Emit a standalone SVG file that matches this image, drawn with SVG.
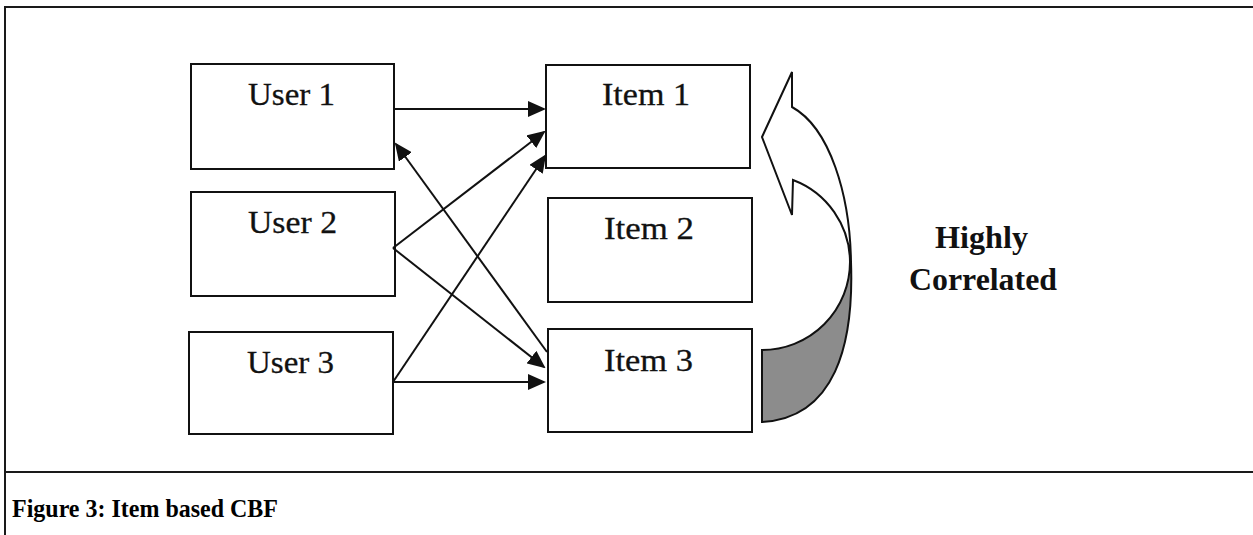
<svg xmlns="http://www.w3.org/2000/svg" width="1253" height="535" viewBox="0 0 1253 535">
  <style>
    .frame { stroke: #1a1a1a; stroke-width: 2; fill: none; }
    .box rect { fill: #ffffff; stroke: #111111; stroke-width: 2; }
    .box text { font-family: "Liberation Serif", "Times New Roman", serif; font-size: 32px; fill: #111111; stroke: #111111; stroke-width: 0.3; }
    .link { stroke: #111111; stroke-width: 2; fill: none; marker-end: url(#ah); }
    .label { font-family: "Liberation Serif", "Times New Roman", serif; font-size: 31px; font-weight: bold; fill: #111111; }
    .caption { font-family: "Liberation Serif", "Times New Roman", serif; font-size: 26px; font-weight: bold; fill: #000000; }
    .bend { stroke: #111111; stroke-width: 2; stroke-linejoin: miter; }
  </style>
  <defs>
    <marker id="ah" markerUnits="userSpaceOnUse" markerWidth="18" markerHeight="16" refX="16" refY="8" orient="auto">
      <path d="M0,0 L18,8 L0,16 Z" fill="#111111"/>
    </marker>
  </defs>

  <rect width="1253" height="535" fill="#ffffff"/>

  <!-- figure frame and caption divider -->
  <g id="frame">
    <path class="frame" d="M5,535 L5,7 L1253,7"/>
    <path class="frame" d="M5,472 L1253,472"/>
  </g>

  <!-- users -->
  <g id="user1" class="box">
    <rect x="191" y="64" width="203" height="105"/>
    <text x="248" y="105" textLength="87" lengthAdjust="spacingAndGlyphs">User 1</text>
  </g>
  <g id="user2" class="box">
    <rect x="191" y="192" width="204" height="104"/>
    <text x="248" y="233" textLength="89" lengthAdjust="spacingAndGlyphs">User 2</text>
  </g>
  <g id="user3" class="box">
    <rect x="189" y="332" width="204" height="102"/>
    <text x="247" y="373" textLength="87" lengthAdjust="spacingAndGlyphs">User 3</text>
  </g>

  <!-- items -->
  <g id="item1" class="box">
    <rect x="546" y="65" width="204" height="103"/>
    <text x="602" y="105" textLength="88" lengthAdjust="spacingAndGlyphs">Item 1</text>
  </g>
  <g id="item2" class="box">
    <rect x="548" y="198" width="204" height="104"/>
    <text x="604" y="239" textLength="90" lengthAdjust="spacingAndGlyphs">Item 2</text>
  </g>
  <g id="item3" class="box">
    <rect x="548" y="329" width="204" height="103"/>
    <text x="604" y="371" textLength="89" lengthAdjust="spacingAndGlyphs">Item 3</text>
  </g>

  <!-- connectors -->
  <g id="connectors">
    <line class="link" x1="393" y1="109" x2="544" y2="109"/>
    <line class="link" x1="393" y1="248" x2="544" y2="132"/>
    <line class="link" x1="393" y1="382" x2="545" y2="156"/>
    <line class="link" x1="547" y1="352" x2="396" y2="144"/>
    <line class="link" x1="393" y1="248" x2="544" y2="367"/>
    <line class="link" x1="393" y1="382" x2="544" y2="382"/>
  </g>

  <!-- curved "highly correlated" arrow -->
  <g id="correlation-arrow">
    <path class="bend" fill="#8c8c8c" d="M762,350 A88,88 0 0 0 850,262 L851,262 C854,345 835,418 762,422 Z"/>
    <path class="bend" fill="#ffffff" d="M762,137 L792,72 L792,107 C830,128 850,195 851,262 L850,262 A88,88 0 0 0 793,180 L792,215 Z"/>
  </g>

  <g id="correlation-label">
    <text class="label" x="935" y="248" textLength="93" lengthAdjust="spacingAndGlyphs">Highly</text>
    <text class="label" x="909" y="290" textLength="148" lengthAdjust="spacingAndGlyphs">Correlated</text>
  </g>

  <text class="caption" x="12" y="517" textLength="266" lengthAdjust="spacingAndGlyphs">Figure 3: Item based CBF</text>
</svg>
